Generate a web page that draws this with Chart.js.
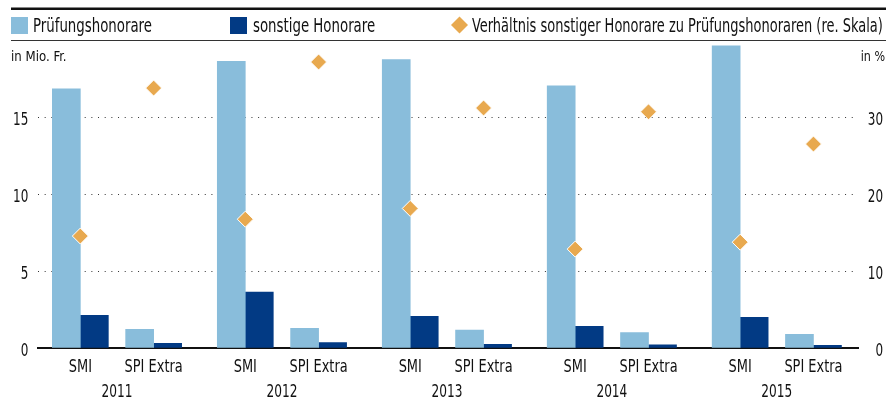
<!DOCTYPE html>
<html><head><meta charset="utf-8">
<script src="https://cdn.jsdelivr.net/npm/chart.js@4"></script>
<style>html,body{margin:0;padding:0;background:#fff}#wrap{width:886px;height:401px;position:relative}</style>
</head><body><div id="wrap"><canvas id="c" width="886" height="401"></canvas></div>
<script>
// ---- data ----
const years = ['2011', '2012', '2013', '2014', '2015'];
const indices = ['SMI', 'SPI Extra'];
const pruefungSMI = [16.9, 18.7, 18.8, 17.1, 19.7];
const pruefungSPI = [1.22, 1.28, 1.17, 1.00, 0.89];
const sonstigeSMI = [2.13, 3.65, 2.07, 1.42, 2.00];
const sonstigeSPI = [0.31, 0.35, 0.24, 0.20, 0.18];
const ratioSMI = [14.6, 16.8, 18.2, 12.9, 13.8];
const ratioSPI = [33.9, 37.3, 31.3, 30.8, 26.6];
const leftTicks = [0, 5, 10, 15];
const rightTicks = [0, 10, 20, 30];
const seriesNames = ['Prüfungshonorare', 'sonstige Honorare', 'Verhältnis sonstiger Honorare zu Prüfungshonoraren (re. Skala)'];

// ---- category slots on the x axis (year groups with two indices each) ----
const YEAR_STEP = 9, INDEX_STEP = 4;
const slot = (yi, ki) => yi * YEAR_STEP + ki * INDEX_STEP;
const catPos = [], catLabels = [];
years.forEach((y, yi) => indices.forEach((k, ki) => { catPos.push(slot(yi, ki)); catLabels.push(k); }));
const yearPos = years.map((y, yi) => yi * YEAR_STEP + INDEX_STEP / 2);

const pts = (a, b) => years.flatMap((y, yi) => [{x: slot(yi, 0), y: a[yi]}, {x: slot(yi, 1), y: b[yi]}]);

const FONT = "'DejaVu Sans Condensed', 'DejaVu Sans', sans-serif";
const C_LIGHT = '#89bddb', C_DARK = '#023a84', C_ORANGE = '#e8a94f', C_TEXT = '#111';

// condensed text helper (the reference uses a narrow typeface)
function txt(ctx, s, x, y, size, align, sx) {
  ctx.save();
  ctx.font = size + 'px ' + FONT;
  ctx.textAlign = align;
  ctx.textBaseline = 'alphabetic';
  ctx.fillStyle = C_TEXT;
  ctx.translate(x, y);
  ctx.scale(sx, 1);
  ctx.fillText(s, 0, 0);
  ctx.restore();
}

const decor = {
  id: 'decor',
  afterDraw(chart) {
    const ctx = chart.ctx;
    ctx.save();
    // rules
    ctx.fillStyle = '#111';
    ctx.fillRect(11, 7.5, 875, 2.5);
    ctx.fillStyle = '#333';
    ctx.fillRect(11, 40, 875, 1);
    // legend
    ctx.fillStyle = C_LIGHT; ctx.fillRect(11, 17, 17, 17);
    ctx.fillStyle = C_DARK; ctx.fillRect(230, 17, 17, 17);
    ctx.fillStyle = C_ORANGE;
    ctx.beginPath(); ctx.moveTo(459.5, 16.5); ctx.lineTo(468, 25); ctx.lineTo(459.5, 33.5); ctx.lineTo(451, 25); ctx.closePath(); ctx.fill();
    ctx.restore();
    txt(ctx, seriesNames[0], 33, 32, 19, 'left', 0.78);
    txt(ctx, seriesNames[1], 253, 32, 19, 'left', 0.78);
    txt(ctx, seriesNames[2], 472, 32, 19, 'left', 0.76);
    // axis units
    txt(ctx, 'in Mio. Fr.', 11, 61, 13.5, 'left', 0.97);
    txt(ctx, 'in %', 885, 61, 13.5, 'right', 0.92);
    // tick labels, placed through the chart's scales
    const {x, x2, y, y1} = chart.scales;
    y.ticks.forEach(t => txt(ctx, String(t.value), y.right - 9.7, y.getPixelForValue(t.value) + 7.5, 18, 'right', 0.74));
    y1.ticks.forEach(t => txt(ctx, String(t.value), 883, y1.getPixelForValue(t.value) + 7.5, 18, 'right', 0.74));
    x.ticks.forEach((t, i) => txt(ctx, catLabels[i], x.getPixelForValue(t.value), 372, 18, 'center', 0.8));
    x2.ticks.forEach((t, i) => txt(ctx, years[i], x2.getPixelForValue(t.value), 397, 18, 'center', 0.75));
  }
};

new Chart(document.getElementById('c'), {
  type: 'bar',
  data: {
    datasets: [
      {type: 'scatter', label: seriesNames[2], data: pts(ratioSMI, ratioSPI), yAxisID: 'y1', xAxisID: 'x',
       pointStyle: 'rectRot', pointRadius: 8, backgroundColor: C_ORANGE, borderColor: '#fff', borderWidth: 1, order: 0},
      {label: seriesNames[0], data: pts(pruefungSMI, pruefungSPI), backgroundColor: C_LIGHT, yAxisID: 'y', xAxisID: 'x', barThickness: 28, order: 1},
      {label: seriesNames[1], data: pts(sonstigeSMI, sonstigeSPI), backgroundColor: C_DARK, yAxisID: 'y', xAxisID: 'x', barThickness: 28, order: 2}
    ]
  },
  options: {
    responsive: false, animation: false, devicePixelRatio: 1,
    layout: {padding: {top: 41.3, right: 3, left: 0, bottom: 0}},
    plugins: {legend: {display: false}, tooltip: {enabled: false}},
    scales: {
      x: {type: 'linear', position: 'bottom', min: -2.31, max: 42.43, offset: false,
          afterBuildTicks: a => { a.ticks = catPos.map(v => ({value: v})); },
          afterFit: s => { s.height = 28; },
          ticks: {display: false},
          grid: {display: false, drawTicks: false, offset: false},
          border: {display: true, color: '#111', width: 2}},
      x2: {type: 'linear', position: 'bottom', min: -2.31, max: 42.43, offset: false,
          afterBuildTicks: a => { a.ticks = yearPos.map(v => ({value: v})); },
          afterFit: s => { s.height = 25; },
          ticks: {display: false},
          grid: {display: false, drawTicks: false, offset: false}, border: {display: false}},
      y: {position: 'left', min: 0, max: 20,
          afterBuildTicks: a => { a.ticks = leftTicks.map(v => ({value: v})); },
          afterFit: s => { s.width = 38; },
          ticks: {display: false},
          grid: {drawTicks: false, lineWidth: 1, color: c => (c.tick && c.tick.value === 0) ? 'rgba(0,0,0,0)' : '#333'},
          border: {display: false, dash: [1, 5.67]}},
      y1: {position: 'right', min: 0, max: 40,
          afterBuildTicks: a => { a.ticks = rightTicks.map(v => ({value: v})); },
          afterFit: s => { s.width = 25; },
          ticks: {display: false},
          grid: {display: false, drawTicks: false}, border: {display: false}}
    }
  },
  plugins: [decor]
});
</script></body></html>
